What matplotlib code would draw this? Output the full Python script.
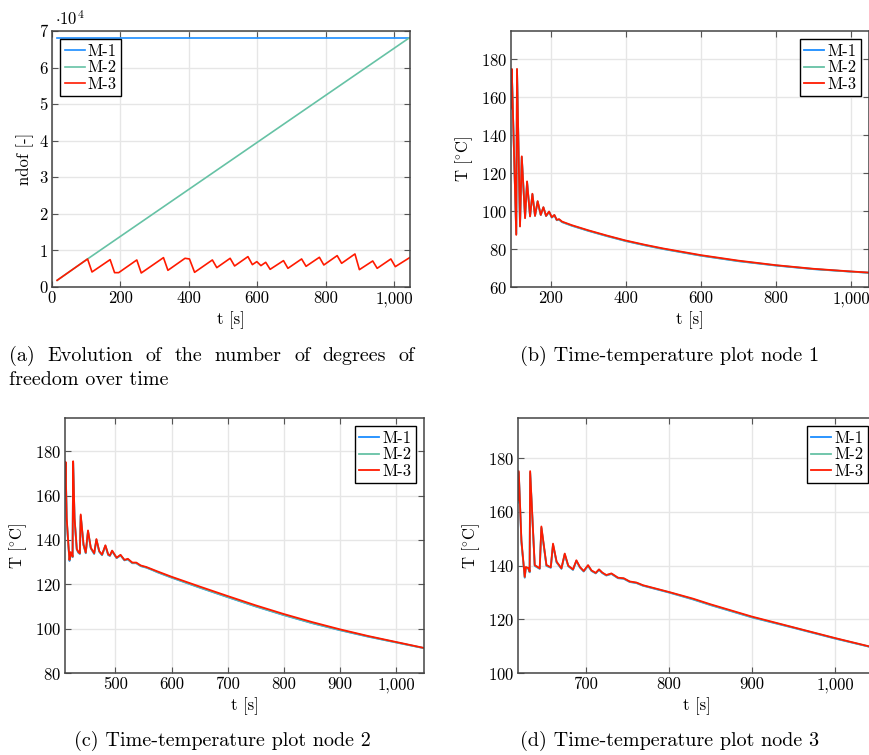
import matplotlib
matplotlib.use("Agg")
import matplotlib.pyplot as plt
from matplotlib.ticker import FuncFormatter, MultipleLocator

plt.rcParams['font.family'] = ['cmr10', 'DejaVu Serif']
plt.rcParams['mathtext.fontset'] = 'cm'
plt.rcParams['axes.formatter.use_mathtext'] = True
plt.rcParams['axes.unicode_minus'] = False

labels = ["M-1", "M-2", "M-3"]
colors = ["#1a8cff", "#66c2a5", "#ff1a00"]

# (a) ndof over time
t_m1 = [15, 1046]
n_m1 = [68200, 68200]
t_m2 = [15, 104, 400, 1046]
n_m2 = [1825, 7666, 26690, 68200]
t_m3 = [15, 104, 117, 170, 183, 195, 248, 261, 326, 339, 389, 402, 417, 469, 482,
        521, 534, 573, 586, 599, 611, 625, 638, 677, 690, 730, 743, 782, 795, 834,
        847, 886, 899, 938, 951, 991, 1004, 1046]
n_m3 = [1825, 7666, 4107, 7483, 3924, 3924, 7392, 3833, 8030, 4563, 7848, 7666, 4015,
        7392, 5293, 7848, 5749, 8304, 6114, 6936, 5841, 6753, 4837, 7210, 5110, 7666,
        5658, 8122, 6023, 8578, 6479, 9035, 4745, 7118, 5110, 7666, 5567, 8030]

# (b) node 1
t_n1 = [94, 96, 108, 110, 118, 122.7, 131.5, 136.8, 144.8, 151, 158, 165, 173.3, 180.3,
        187.5, 195.5, 202.7, 209.6, 216, 222, 230, 256, 300, 350, 400, 450, 500, 600,
        700, 800, 900, 1000, 1048]
T_n1_m3 = [154.5, 175, 87.5, 175, 91.9, 128.9, 96.3, 115.7, 97.2, 109.2, 97.5, 105.3, 98,
           102.1, 97.5, 99.8, 96.8, 98, 95.4, 95.8, 94.5, 92.6, 89.9, 87.1, 84.5, 82.3,
           80.3, 76.8, 73.9, 71.5, 69.6, 68.2, 67.6]
T_n1_m1 = [154.0, 174.6, 88.0, 174.6, 92.3, 128.4, 96.6, 115.2, 97.4, 108.8, 97.6, 105.0, 98,
           101.9, 97.4, 99.6, 96.6, 97.8, 95.2, 95.5, 94.2, 92.3, 89.6, 86.8, 84.2, 82.0,
           80.0, 76.5, 73.6, 71.3, 69.4, 68.1, 67.5]
T_n1_m2 = [154.2, 174.8, 87.8, 174.8, 92.1, 128.6, 96.5, 115.4, 97.3, 109.0, 97.5, 105.1, 98,
           102.0, 97.4, 99.7, 96.7, 97.9, 95.3, 95.6, 94.3, 92.4, 89.7, 86.9, 84.3, 82.1,
           80.1, 76.6, 73.7, 71.4, 69.5, 68.1, 67.5]

# (c) node 2
t_n2 = [410, 411, 413, 416, 418, 420, 422, 423.5, 424.5, 427, 431, 434, 436.5, 438, 443,
        447, 451, 456, 462, 466, 471, 476, 482, 487, 490, 494, 502, 509, 516, 522, 530,
        537, 545, 555, 565, 575, 600, 650, 700, 750, 800, 850, 900, 950, 1000, 1050]
T_n2_m3 = [163, 175.2, 150, 138, 131, 134.5, 134, 132.5, 175.5, 150, 136, 134.5, 134, 151.5,
           138, 134.3, 144.3, 136.5, 134, 140.4, 135, 133.4, 137.6, 133.5, 133, 135.2, 132,
           133.3, 131, 131.5, 129.8, 129.8, 128.5, 127.8, 126.8, 125.8, 123.4, 119.0, 114.7,
           110.5, 106.6, 103.0, 99.7, 96.7, 94.0, 91.3]
T_n2_m1 = [162, 174.6, 149, 137.5, 130.5, 134.2, 133.6, 132.2, 174.8, 149.4, 135.6, 134.2, 133.7,
           150.8, 137.6, 134.0, 143.8, 136.2, 133.7, 140.0, 134.7, 133.1, 137.3, 133.2, 132.8,
           134.9, 131.8, 133.0, 130.8, 131.2, 129.5, 129.5, 128.2, 127.5, 126.5, 125.4, 123.0,
           118.5, 114.2, 110.0, 106.1, 102.5, 99.3, 96.4, 93.8, 91.2]
T_n2_m2 = [162.5, 174.8, 149.5, 137.8, 130.8, 134.3, 133.8, 132.3, 175.0, 149.7, 135.8, 134.3,
           133.8, 151.0, 137.8, 134.1, 144.0, 136.3, 133.8, 140.2, 134.8, 133.2, 137.4, 133.3,
           132.9, 135.0, 131.9, 133.1, 130.9, 131.3, 129.6, 129.6, 128.3, 127.6, 126.6, 125.5,
           123.1, 118.6, 114.3, 110.1, 106.2, 102.6, 99.4, 96.5, 93.8, 91.2]

# (d) node 3
t_n3 = [618.6, 619.5, 622.7, 626.7, 628, 631.6, 632.6, 633.2, 638.7, 644.7, 646.7, 652.8, 658,
        660.7, 665, 670.8, 674.8, 679, 684.7, 688.8, 693, 697.6, 702.8, 707, 712, 716, 720,
        724.8, 730.9, 738.9, 745.7, 752.9, 760.9, 768.9, 785, 801, 829, 850, 900, 950, 1000,
        1049]
T_n3_m3 = [164.3, 175.2, 149.4, 135.8, 139.5, 139, 137.8, 175.2, 140.2, 139, 154.6, 140.2,
           139.4, 148.2, 141.5, 139, 144.5, 140, 138.6, 142, 139.5, 138, 140.2, 138.2, 137.3,
           138.6, 137.4, 136.5, 137.1, 135.5, 135.3, 134.1, 133.7, 132.7, 131.4, 130.1, 127.7,
           125.6, 121.0, 117.0, 113.0, 109.3]
T_n3_m1 = [163.5, 174.6, 148.8, 135.5, 139.2, 138.7, 137.5, 174.6, 139.9, 138.8, 154.0, 139.9,
           139.2, 147.7, 141.2, 138.8, 144.1, 139.8, 138.4, 141.7, 139.3, 137.8, 139.9, 138.0,
           137.1, 138.4, 137.2, 136.3, 136.9, 135.3, 135.1, 133.9, 133.5, 132.5, 131.2, 129.9,
           127.4, 125.3, 120.7, 116.8, 112.8, 109.2]
T_n3_m2 = [163.8, 174.8, 149.0, 135.6, 139.3, 138.8, 137.6, 174.8, 140.0, 138.9, 154.2, 140.0,
           139.3, 147.9, 141.3, 138.9, 144.3, 139.9, 138.5, 141.8, 139.4, 137.9, 140.0, 138.1,
           137.2, 138.5, 137.3, 136.4, 137.0, 135.4, 135.2, 134.0, 133.6, 132.6, 131.3, 130.0,
           127.5, 125.4, 120.8, 116.9, 112.9, 109.2]

captions = ["(a) Evolution of the number of degrees of", "freedom over time",
            "(b) Time-temperature plot node 1", "(c) Time-temperature plot node 2",
            "(d) Time-temperature plot node 3"]

W, H = 869, 755
FS = 12      # ticks, labels, legend
CAP = 14.5   # captions
fig = plt.figure(figsize=(W / 100, H / 100), dpi=100)


def box(x0, y0, w, h):
    return [x0 / W, 1 - (y0 + h) / H, w / W, h / H]


def style(ax, xlim, ylim, xstep, ystep):
    ax.set_xlim(*xlim)
    ax.set_ylim(*ylim)
    ax.xaxis.set_major_locator(MultipleLocator(xstep))
    ax.yaxis.set_major_locator(MultipleLocator(ystep))
    ax.xaxis.set_major_formatter(FuncFormatter(lambda v, p: f"{v:,.0f}"))
    ax.grid(True, color="#e6e6e6", lw=1.0)
    ax.set_axisbelow(True)
    ax.tick_params(direction="in", length=4, width=0.8, color="#555555",
                   top=True, right=True, labelsize=FS, pad=3)
    for s in ax.spines.values():
        s.set_color("#444444")
        s.set_linewidth(1.1)
    ax.set_xlabel("t [s]", fontsize=FS, labelpad=3)


def legend(ax, loc):
    lg = ax.legend(loc=loc, fontsize=FS, frameon=True, fancybox=False, framealpha=1,
                   edgecolor="black", handlelength=1.2, handletextpad=0.2,
                   labelspacing=0.08, borderpad=0.25, borderaxespad=0.5)
    lg.get_frame().set_linewidth(1.0)


# (a)
ax = fig.add_axes(box(52, 31, 358, 256))
ax.plot(t_m1, n_m1, color=colors[0], lw=1.2, label=labels[0])
ax.plot(t_m2, n_m2, color=colors[1], lw=1.2, label=labels[1])
ax.plot(t_m3, n_m3, color=colors[2], lw=1.2, label=labels[2])
style(ax, (0, 1047), (0, 70000), 200, 10000)
ax.yaxis.set_major_formatter(FuncFormatter(lambda v, p: f"{v / 1e4:.0f}"))
ax.set_ylabel("ndof [-]", fontsize=FS, labelpad=4)
ax.text(0.008, 1.012, r"$\cdot 10^{4}$", transform=ax.transAxes, fontsize=FS,
        ha="left", va="bottom")
legend(ax, "upper left")

# (b), (c), (d)
panels = [
    (box(511, 31, 358, 256), t_n1, [T_n1_m1, T_n1_m2, T_n1_m3], (94, 1048), (60, 195), 200),
    (box(65, 418, 359, 255), t_n2, [T_n2_m1, T_n2_m2, T_n2_m3], (410, 1050), (80, 195), 100),
    (box(518, 418, 358, 255), t_n3, [T_n3_m1, T_n3_m2, T_n3_m3], (618.6, 1049), (100, 195), 100),
]
for pos, tt, series, xl, yl, xs in panels:
    ax = fig.add_axes(pos)
    for vals, c, lab in zip(series, colors, labels):
        ax.plot(tt, vals, color=c, lw=1.3, label=lab)
    style(ax, xl, yl, xs, 20)
    ax.set_ylabel(r"T [$^{\circ}$C]", fontsize=FS, labelpad=4)
    legend(ax, "upper right")

# caption (a), first line justified between x=9 and x=415 like the LaTeX subcaption
renderer = fig.canvas.get_renderer()
words = captions[0].split()
items = [fig.text(0, 1 - 356 / H, w, fontsize=CAP, ha="left", va="center") for w in words]
widths = [it.get_window_extent(renderer).width for it in items]
gap = (415 - 9 - sum(widths)) / (len(words) - 1)
x = 9
for it, w in zip(items, widths):
    it.set_x(x / W)
    x += w + gap

fig.text(9 / W, 1 - 380 / H, captions[1], fontsize=CAP, ha="left", va="center")
fig.text(670 / W, 1 - 356 / H, captions[2], fontsize=CAP, ha="center", va="center")
fig.text(222 / W, 1 - 741 / H, captions[3], fontsize=CAP, ha="center", va="center")
fig.text(670 / W, 1 - 741 / H, captions[4], fontsize=CAP, ha="center", va="center")

fig.savefig("out.png", dpi=100)
